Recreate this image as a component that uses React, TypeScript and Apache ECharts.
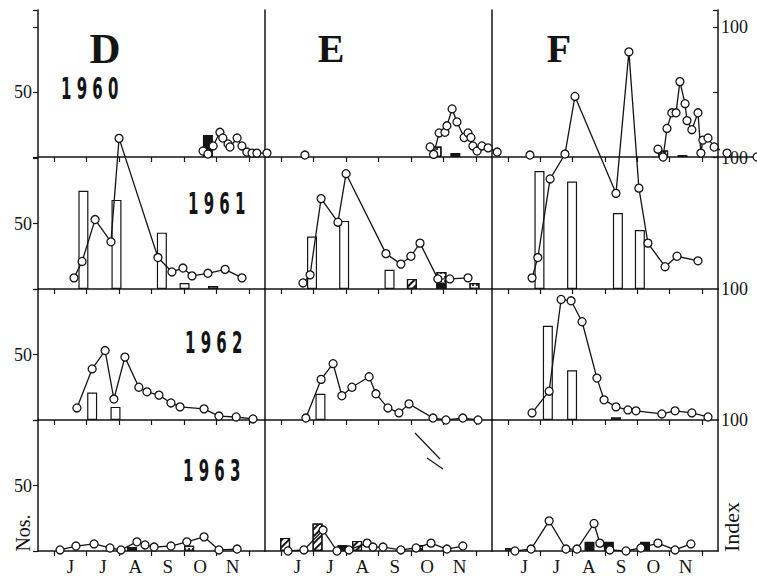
import React, { useEffect, useRef } from "react";
import * as echarts from "echarts";

// ---------- labels ----------
const MONTHS = ["", "J", "J", "A", "S", "O", "N", ""];
const YEARS = ["1960", "1961", "1962", "1963"];
const STATIONS = ["D", "E", "F"];
const NOS_TICK = 50;
const INDEX_TICK = 100;

// ---------- index lines: [months after 1 June, index] ----------
const D1960_INDEX = [[4.59, 4.6], [4.74, 2.3], [4.9, 8.5], [5.11, 19], [5.2, 14.6], [5.36, 10], [5.42, 7.7], [5.64, 14.6], [5.79, 8.5], [5.94, 3.8], [6.1, 3], [6.25, 3], [6.56, 3], [7.73, 1.5]];
const E1960_INDEX = [[4.59, 7.7], [4.7, 2], [4.87, 18.5], [5.05, 19], [5.11, 24], [5.27, 37], [5.42, 27], [5.64, 15], [5.76, 18.5], [5.85, 15], [5.91, 8.5], [6.04, 4.6], [6.19, 8.5], [6.38, 7], [6.66, 3.8], [7.67, 1.5]];
const F1960_INDEX = [[4.64, 6], [4.8, 0], [4.92, 22], [5.07, 34], [5.2, 34], [5.32, 58], [5.48, 41], [5.54, 28], [5.69, 21], [5.88, 34], [5.97, 3], [6.03, 13], [6.19, 14.6], [6.38, 7.7], [6.78, 3], [7.71, 0]];

const D1961_INDEX = [[0.61, 8.5], [0.86, 21], [1.26, 53], [1.75, 36], [2.0, 115], [3.2, 24], [3.63, 13], [3.97, 16], [4.25, 10], [4.74, 12], [5.27, 15], [5.79, 8.5]];
const E1961_INDEX = [[0.67, 4.6], [0.89, 10.8], [1.23, 69], [1.75, 51], [2.0, 88], [3.23, 27], [3.69, 19], [4.0, 25], [4.28, 35], [4.83, 7.7], [5.2, 7.7], [5.76, 8.5]];
const F1961_INDEX = [[0.74, 8.5], [0.92, 24], [1.3, 84], [1.76, 103], [2.07, 147], [3.34, 73], [3.74, 181], [4.05, 77], [4.33, 35], [4.86, 17], [5.23, 25], [5.88, 21.5]];

const D1962_INDEX = [[0.7, 9.2], [1.17, 39], [1.57, 53], [1.84, 16], [2.18, 48], [2.61, 25], [2.86, 21.5], [3.23, 19], [3.6, 13], [3.88, 10], [4.62, 8.5], [5.08, 3], [5.61, 2.3], [6.13, 0.8]];
const E1962_INDEX = [[0.76, 1.5], [1.23, 31], [1.6, 43], [1.87, 18.5], [2.18, 25], [2.71, 33], [2.92, 20], [3.29, 9.2], [3.63, 5.4], [3.94, 12.3], [4.68, 1.5], [5.08, 0], [5.6, 1.5], [6.07, 0]];
const F1962_INDEX = [[0.74, 5.4], [1.27, 22], [1.64, 92], [1.95, 91], [2.29, 75], [2.75, 32], [2.97, 15.4], [3.34, 10], [3.71, 7.7], [3.96, 7], [4.76, 4.6], [5.17, 7], [5.69, 5.4], [6.19, 2.3]];

const D1963_INDEX = [[0.18, 0.8], [0.67, 3.8], [1.23, 5.4], [1.72, 2.3], [2.06, 0.8], [2.55, 7], [2.8, 4.6], [3.08, 3], [3.6, 3.8], [4.09, 7], [4.62, 10.8], [5.08, 0.8], [5.64, 1.5]];
const E1963_INDEX = [[0.21, 0], [0.7, 0.8], [1.29, 16], [1.72, 0], [2.09, 0.8], [2.65, 6], [2.83, 3], [3.14, 3], [3.69, 0.8], [4.16, 2.3], [4.62, 6], [5.11, 1.5], [5.6, 3.8]];
const F1963_INDEX = [[0.21, 0], [0.71, 1.5], [1.27, 23], [1.79, 1.5], [2.13, 1.5], [2.66, 21], [2.84, 6], [3.15, 0.8], [3.65, 0], [4.11, 2.3], [4.64, 6], [5.17, 0.8], [5.66, 5.4]];

// ---------- numbers (bars): [months after 1 June, nos., kind] o=open h=hatched s=stippled b=black ----------
const D1960_NOS = [[4.74, 17, "b"]];
const E1960_NOS = [[4.79, 8, "s"], [5.37, 3, "b"]];
const F1960_NOS = [[4.8, 5, "s"], [5.4, 1.5, "b"]];

const D1961_NOS = [[0.9, 75, "o"], [1.92, 68, "o"], [3.32, 43, "o"], [4.02, 4.6, "o"], [4.9, 2.3, "s"]];
const E1961_NOS = [[0.95, 40, "o"], [1.94, 52, "o"], [3.34, 14.6, "o"], [4.03, 7.7, "h"], [4.94, 13, "s"], [5.96, 4.6, "s"]];
const E1961_NOS_BLACK = [[4.94, 5, "b"]];
const F1961_NOS = [[0.97, 90, "o"], [1.98, 82, "o"], [3.4, 58, "o"], [4.08, 45, "o"]];

const D1962_NOS = [[1.17, 21, "o"], [1.89, 10, "o"]];
const E1962_NOS = [[1.21, 20, "o"]];
const F1962_NOS = [[1.23, 72, "o"], [1.98, 38, "o"], [3.34, 2, "s"]];

const D1963_NOS = [[2.4, 3, "b"], [4.16, 4, "s"]];
const E1963_NOS = [[0.12, 10, "h"], [1.12, 21, "h"], [1.89, 4.6, "b"], [2.34, 7.7, "h"], [4.22, 4.6, "s"]];
const F1963_NOS = [[0.06, 2.3, "s"], [2.52, 7, "b"], [3.12, 7, "b"], [4.24, 7, "b"]];

const INDEX_ROWS = [
  [D1960_INDEX, E1960_INDEX, F1960_INDEX],
  [D1961_INDEX, E1961_INDEX, F1961_INDEX],
  [D1962_INDEX, E1962_INDEX, F1962_INDEX],
  [D1963_INDEX, E1963_INDEX, F1963_INDEX],
];
const NOS_ROWS = [
  [D1960_NOS, E1960_NOS, F1960_NOS],
  [D1961_NOS, E1961_NOS, F1961_NOS],
  [D1962_NOS, E1962_NOS, F1962_NOS],
  [D1963_NOS, E1963_NOS, F1963_NOS],
];
const NOS_OVERLAY_ROWS = [
  [[], [], []],
  [[], E1961_NOS_BLACK, []],
  [[], [], []],
  [[], [], []],
];

// ---------- layout ----------
const INK = "#141414";
const SERIF = '"Liberation Serif", "DejaVu Serif", serif';
const COL_LEFT = [38, 265, 492];
const COL_W = [227, 227, 226];
const ROW_TOP = [10, 158, 289, 420];
const ROW_H = [147, 131, 131, 131];
const ROW_MAX = [113.1, 100, 100, 100];
const YEAR_POS = [[61, 89], [188, 204], [185, 343], [183, 471]];
const LETTER_POS = [[105, 48, 43], [331, 48, 40], [559, 48, 40]];

function barStyle(k: string) {
  const base: any = { borderColor: INK, borderWidth: 1.2, color: "#fff" };
  if (k === "b") return { ...base, color: INK };
  if (k === "h")
    return {
      ...base,
      decal: {
        symbol: "rect",
        symbolSize: 1,
        color: INK,
        backgroundColor: "#fff",
        dashArrayX: [1, 0],
        dashArrayY: [1.4, 2.6],
        rotation: -Math.PI / 4,
      },
    };
  if (k === "s")
    return {
      ...base,
      decal: {
        symbol: "rect",
        symbolSize: 1,
        color: "#333",
        backgroundColor: "#fff",
        dashArrayX: [1.2, 1.6],
        dashArrayY: [1.2, 1.6],
      },
    };
  return base;
}

function buildOption() {
  const grid: any[] = [];
  const xAxis: any[] = [];
  const yAxis: any[] = [];
  const series: any[] = [];
  const line = { color: INK, width: 1.5 };
  for (let r = 0; r < 4; r++) {
    for (let c = 0; c < 3; c++) {
      const i = r * 3 + c;
      grid.push({
        left: COL_LEFT[c],
        top: ROW_TOP[r],
        width: COL_W[c],
        height: ROW_H[r],
        containLabel: false,
        outerBoundsMode: "none",
      });
      xAxis.push({
        type: "value",
        gridIndex: i,
        min: -0.5,
        max: 6.5,
        interval: 1,
        axisLine: { show: true, onZero: false, lineStyle: line },
        axisTick: { show: false },
        minorTick: { show: true, splitNumber: 2, length: 5, lineStyle: { color: INK, width: 1.2 } },
        splitLine: { show: false },
        minorSplitLine: { show: false },
        axisLabel: {
          show: r === 3,
          formatter: (v: number) => MONTHS[Math.round(v + 0.5)] || "",
          color: INK,
          fontFamily: SERIF,
          fontSize: 19,
          lineHeight: 19,
          margin: 6,
        },
      });
      yAxis.push({
        type: "value",
        gridIndex: i,
        min: 0,
        max: ROW_MAX[r],
        interval: 50,
        position: "left",
        axisLine: { show: true, onZero: false, lineStyle: line },
        axisTick: { show: c === 0, length: 5, lineStyle: { color: INK, width: 1.2 } },
        splitLine: { show: false },
        axisLabel: {
          show: c === 0,
          formatter: (v: number) => (Math.abs(v - NOS_TICK) < 0.01 ? String(NOS_TICK) : ""),
          color: INK,
          fontFamily: SERIF,
          fontSize: 18,
          margin: 6,
        },
      });
      const yi = yAxis.length - 1;
      if (c === 2) {
        yAxis.push({
          type: "value",
          gridIndex: i,
          min: 0,
          max: ROW_MAX[r],
          interval: 50,
          position: "right",
          axisLine: { show: true, onZero: false, lineStyle: line },
          axisTick: { show: r === 0, inside: true, length: 5, lineStyle: { color: INK, width: 1.2 } },
          splitLine: { show: false },
          axisLabel: {
            show: true,
            formatter: (v: number) => (Math.abs(v - INDEX_TICK) < 0.01 ? String(INDEX_TICK) : ""),
            color: INK,
            fontFamily: SERIF,
            fontSize: 18,
            margin: 3,
          },
        });
      }
      series.push({
        type: "bar",
        xAxisIndex: i,
        yAxisIndex: yi,
        barWidth: 10,
        barGap: "-100%",
        z: 2,
        data: NOS_ROWS[r][c].map((d: any) => ({ value: [d[0], d[1]], itemStyle: barStyle(d[2]) })),
      });
      if (NOS_OVERLAY_ROWS[r][c].length) {
        series.push({
          type: "bar",
          xAxisIndex: i,
          yAxisIndex: yi,
          barWidth: 10,
          barGap: "-100%",
          z: 2,
          data: NOS_OVERLAY_ROWS[r][c].map((d: any) => ({ value: [d[0], d[1]], itemStyle: barStyle(d[2]) })),
        });
      }
      series.push({
        type: "line",
        xAxisIndex: i,
        yAxisIndex: yi,
        clip: false,
        z: 3,
        symbol: "circle",
        symbolSize: 8,
        showSymbol: true,
        data: INDEX_ROWS[r][c],
        itemStyle: { color: "#fff", borderColor: INK, borderWidth: 1.3 },
        lineStyle: { color: INK, width: 1.3 },
      });
    }
  }

  const graphic: any[] = [];
  STATIONS.forEach((s, c) => {
    graphic.push({
      type: "text",
      x: LETTER_POS[c][0],
      y: LETTER_POS[c][1],
      style: {
        text: s,
        fill: INK,
        fontFamily: SERIF,
        fontWeight: "bold",
        fontSize: LETTER_POS[c][2],
        align: "center",
        verticalAlign: "middle",
      },
    });
  });
  YEARS.forEach((y, r) => {
    graphic.push({
      type: "text",
      x: YEAR_POS[r][0],
      y: YEAR_POS[r][1],
      scaleX: 0.5,
      style: {
        text: y.split("").join(" "),
        fill: INK,
        fontFamily: '"DejaVu Sans", sans-serif',
        fontWeight: "bold",
        fontSize: 30,
        align: "left",
        verticalAlign: "middle",
      },
    });
  });
  graphic.push({
    type: "text",
    x: 23,
    y: 533,
    rotation: Math.PI / 2,
    style: { text: "Nos.", fill: INK, fontFamily: SERIF, fontSize: 20, align: "center", verticalAlign: "middle" },
  });
  graphic.push({
    type: "text",
    x: 731,
    y: 527,
    rotation: Math.PI / 2,
    style: { text: "Index", fill: INK, fontFamily: SERIF, fontSize: 22, align: "center", verticalAlign: "middle" },
  });
  // 1960 base line continues past the right axis
  graphic.push({ type: "line", shape: { x1: 718, y1: 157, x2: 757, y2: 157 }, style: { stroke: INK, lineWidth: 1.5 } });
  // stray pen marks in panel E 1963
  graphic.push({ type: "line", shape: { x1: 415, y1: 433, x2: 440, y2: 459 }, style: { stroke: INK, lineWidth: 1.2 } });
  graphic.push({ type: "line", shape: { x1: 427, y1: 458, x2: 443, y2: 469 }, style: { stroke: INK, lineWidth: 1.2 } });

  return {
    animation: false,
    backgroundColor: "#fff",
    grid,
    xAxis,
    yAxis,
    series,
    graphic,
  };
}

export default function App() {
  const ref = useRef<HTMLDivElement>(null);
  useEffect(() => {
    if (!ref.current) return;
    const chart = echarts.init(ref.current, undefined, { renderer: "svg" });
    chart.setOption(buildOption() as any);
    return () => chart.dispose();
  }, []);
  return (
    <div
      ref={ref}
      style={{ position: "absolute", left: 0, top: 0, width: 757, height: 578, background: "#fff" }}
    />
  );
}
